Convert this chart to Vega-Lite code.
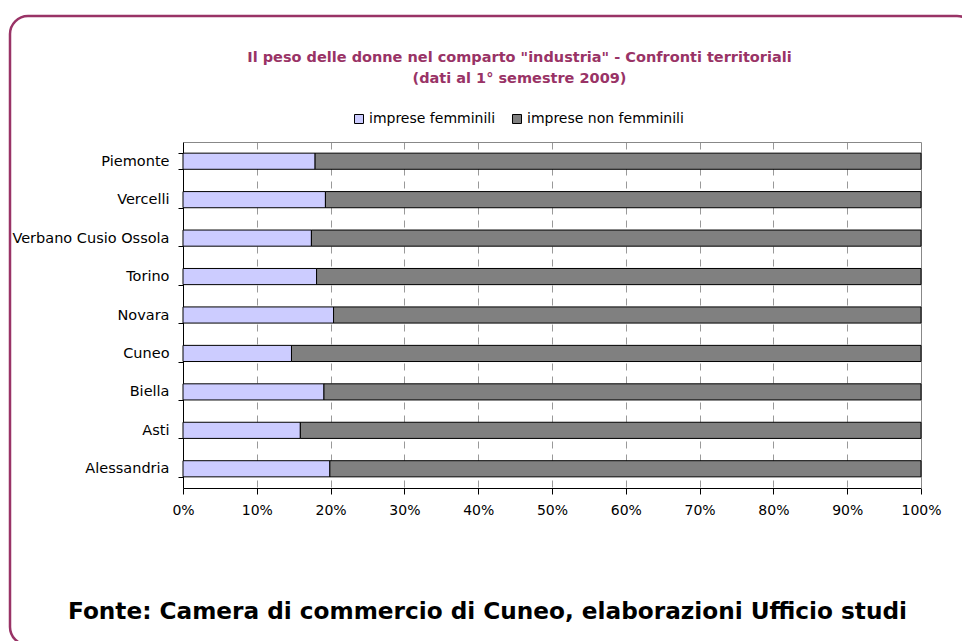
{
  "$schema": "https://vega.github.io/schema/vega-lite/v6.json",
  "width": 965,
  "height": 629,
  "autosize": "none",
  "padding": {"left": 10, "top": 16, "right": 0, "bottom": 0},
  "background": "white",
  "title": {
    "text": ["Il peso delle donne nel comparto \"industria\" - Confronti territoriali", "(dati al 1° semestre 2009)"],
    "font": "DejaVu Sans",
    "fontSize": 14.5,
    "fontWeight": "bold",
    "color": "#993366",
    "anchor": "middle",
    "frame": "group",
    "offset": -78,
    "dx": 27,
    "lineHeight": 21
  },
  "data": {
    "values": [
      {"region": "Piemonte", "cat": "imprese femminili", "ord": 1, "pct": 17.9},
      {"region": "Piemonte", "cat": "imprese non femminili", "ord": 2, "pct": 82.1},
      {"region": "Vercelli", "cat": "imprese femminili", "ord": 1, "pct": 19.3},
      {"region": "Vercelli", "cat": "imprese non femminili", "ord": 2, "pct": 80.7},
      {"region": "Verbano Cusio Ossola", "cat": "imprese femminili", "ord": 1, "pct": 17.4},
      {"region": "Verbano Cusio Ossola", "cat": "imprese non femminili", "ord": 2, "pct": 82.6},
      {"region": "Torino", "cat": "imprese femminili", "ord": 1, "pct": 18.1},
      {"region": "Torino", "cat": "imprese non femminili", "ord": 2, "pct": 81.9},
      {"region": "Novara", "cat": "imprese femminili", "ord": 1, "pct": 20.4},
      {"region": "Novara", "cat": "imprese non femminili", "ord": 2, "pct": 79.6},
      {"region": "Cuneo", "cat": "imprese femminili", "ord": 1, "pct": 14.7},
      {"region": "Cuneo", "cat": "imprese non femminili", "ord": 2, "pct": 85.3},
      {"region": "Biella", "cat": "imprese femminili", "ord": 1, "pct": 19.1},
      {"region": "Biella", "cat": "imprese non femminili", "ord": 2, "pct": 80.9},
      {"region": "Asti", "cat": "imprese femminili", "ord": 1, "pct": 15.9},
      {"region": "Asti", "cat": "imprese non femminili", "ord": 2, "pct": 84.1},
      {"region": "Alessandria", "cat": "imprese femminili", "ord": 1, "pct": 19.9},
      {"region": "Alessandria", "cat": "imprese non femminili", "ord": 2, "pct": 80.1}
    ]
  },
  "config": {
    "view": {"stroke": "#993366", "strokeWidth": 2.5, "cornerRadius": 18},
    "font": "DejaVu Sans"
  },
  "resolve": {"axis": {"x": "independent", "y": "independent"}},
  "layer": [
    {
      "mark": {"type": "bar", "opacity": 0},
      "encoding": {
        "x": {
          "field": "pct", "type": "quantitative", "stack": "zero",
          "scale": {"domain": [0, 100], "range": [173, 911], "nice": false},
          "axis": {"orient": "top", "offset": -126, "labels": false, "ticks": false, "domainColor": "#888888", "grid": true, "gridColor": "#999999", "gridDash": [7, 6], "values": [10, 20, 30, 40, 50, 60, 70, 80, 90], "title": null}
        },
        "y": {
          "field": "region", "type": "nominal",
          "sort": ["Piemonte", "Vercelli", "Verbano Cusio Ossola", "Torino", "Novara", "Cuneo", "Biella", "Asti", "Alessandria"],
          "scale": {"range": [126, 472], "paddingInner": 0.58, "paddingOuter": 0.29},
          "axis": {"orient": "right", "offset": -54, "labels": false, "ticks": false, "domainColor": "#888888", "grid": false, "title": null}
        },
        "order": {"field": "ord"}
      }
    },
    {
      "mark": {"type": "bar", "stroke": "black", "strokeWidth": 1},
      "encoding": {
        "x": {
          "field": "pct", "type": "quantitative", "stack": "zero",
          "scale": {"domain": [0, 100], "range": [173, 911], "nice": false},
          "axis": {
            "orient": "bottom", "offset": -157, "values": [0, 10, 20, 30, 40, 50, 60, 70, 80, 90, 100],
            "labelExpr": "datum.value + '%'", "labelFlush": false, "grid": false, "domainColor": "black", "tickColor": "black",
            "tickSize": 6, "labelPadding": 9, "labelFont": "DejaVu Sans", "labelFontSize": 14, "labelColor": "black",
            "title": "Fonte: Camera di commercio di Cuneo, elaborazioni Ufficio studi",
            "titleFont": "DejaVu Sans", "titleFontSize": 23.2, "titleFontWeight": "bold", "titleColor": "black",
            "titleX": 477, "titleY": 123, "titleBaseline": "middle", "titleAlign": "center"
          }
        },
        "y": {
          "field": "region", "type": "nominal",
          "sort": ["Piemonte", "Vercelli", "Verbano Cusio Ossola", "Torino", "Novara", "Cuneo", "Biella", "Asti", "Alessandria"],
          "scale": {"range": [126, 472], "paddingInner": 0.58, "paddingOuter": 0.29},
          "axis": {"orient": "left", "offset": -173, "title": null, "tickBand": "extent", "tickSize": 5, "labelPadding": 9, "domainColor": "black", "tickColor": "black", "labelFont": "DejaVu Sans", "labelFontSize": 14.5, "labelColor": "black", "grid": false}
        },
        "color": {
          "field": "cat", "type": "nominal",
          "scale": {"domain": ["imprese femminili", "imprese non femminili"], "range": ["#CCCCFF", "#808080"]},
          "legend": {"orient": "none", "legendX": 342, "legendY": 96, "direction": "horizontal", "title": null, "symbolType": "square", "symbolSize": 81, "symbolStrokeColor": "black", "symbolStrokeWidth": 1, "labelFont": "DejaVu Sans", "labelFontSize": 14, "labelColor": "black", "columnPadding": 14, "labelOffset": 3, "padding": 0}
        },
        "order": {"field": "ord"}
      }
    }
  ]
}
